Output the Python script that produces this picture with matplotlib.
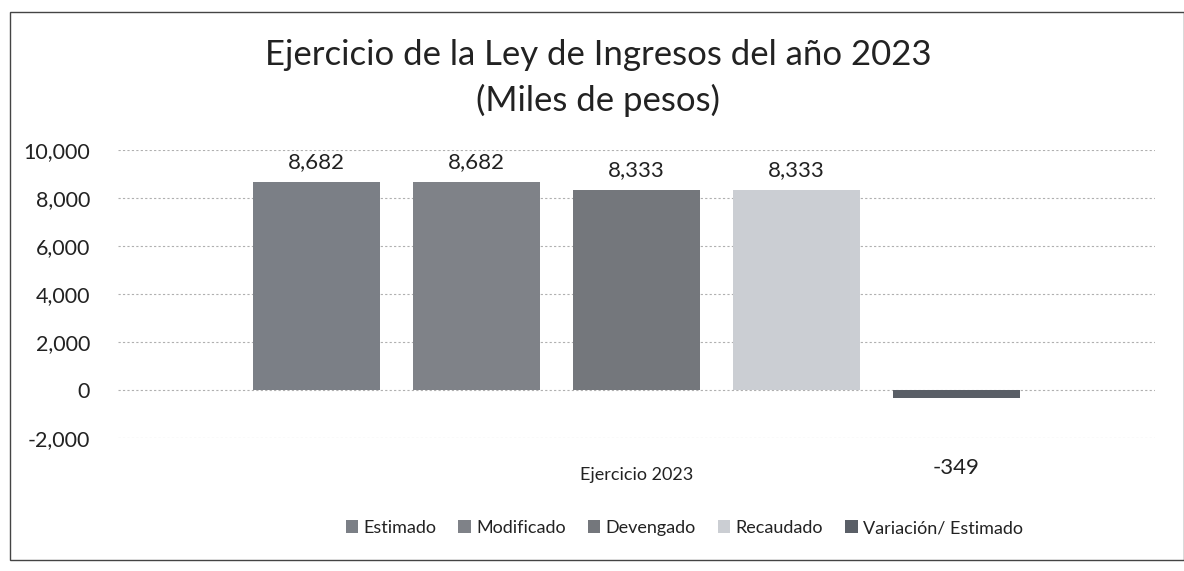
import matplotlib
matplotlib.use("Agg")
import matplotlib.pyplot as plt
from matplotlib.patches import Rectangle
from matplotlib.ticker import FuncFormatter

plt.rcParams['font.family'] = ['Lato', 'DejaVu Sans']

category = "Ejercicio 2023"
series = ["Estimado", "Modificado", "Devengado", "Recaudado", "Variación/ Estimado"]
values = [8682, 8682, 8333, 8333, -349]
colors = ["#7b7f86", "#7f8288", "#74777c", "#cbced3", "#5a5f67"]
yticks = [-2000, 0, 2000, 4000, 6000, 8000, 10000]

fig = plt.figure(figsize=(11.84, 5.71), dpi=100)
ax = fig.add_axes([118/1184, (571-438)/571, (1155-118)/1184, (438-150)/571])

offsets = [-2, -1, 0, 1, 2]
width = 0.79
for off, val, col, name in zip(offsets, values, colors, series):
    ax.bar(off, val, width=width, color=col, label=name, zorder=2)
    if val >= 0:
        ax.annotate(f"{val:,}", (off, val), xytext=(0, 7), textcoords="offset points",
                    ha="center", va="bottom", fontsize=16, color="#222222")
    else:
        ax.annotate(f"{val:,}", (off, val), xytext=(0, -43), textcoords="offset points",
                    ha="center", va="top", fontsize=16, color="#222222")

ax.set_xlim(-3.24, 3.24)
ax.set_ylim(-2000, 10000)
ax.set_yticks(yticks)
ax.yaxis.set_major_formatter(FuncFormatter(lambda v, p: f"{int(v):,}"))
ax.tick_params(axis='y', length=0, labelsize=15.5, pad=20, labelcolor="#222222")
ax.set_xticks([])
ax.grid(axis='y', color="#b0b0b0", linestyle=(0, (2, 2)), linewidth=0.8, zorder=0)
for s in ax.spines.values():
    s.set_visible(False)

ax.text(0, -0.13, category, transform=ax.get_xaxis_transform(), ha="center", va="center",
        fontsize=13, color="#222222")

fig.text(0.505, 1 - 55/571, "Ejercicio de la Ley de Ingresos del año 2023", ha="center",
         va="center", fontsize=25, color="#222222")
fig.text(0.505, 1 - 100/571, "(Miles de pesos)", ha="center", va="center",
         fontsize=25, color="#222222")

handles, labels = ax.get_legend_handles_labels()
fig.legend(handles, labels, loc="center", bbox_to_anchor=(0.578, 1 - 528/571), ncol=5,
           frameon=False, fontsize=13, handlelength=0.7, handleheight=0.7,
           handletextpad=0.3, columnspacing=1.2, labelcolor="#222222")

fig.patches.append(Rectangle((10/1184, 1 - 560/571), (1184-10)/1184, (560-12)/571,
                             transform=fig.transFigure, fill=False, edgecolor="#444444",
                             linewidth=1.0))

fig.savefig("out.png", dpi=100, facecolor="white")
